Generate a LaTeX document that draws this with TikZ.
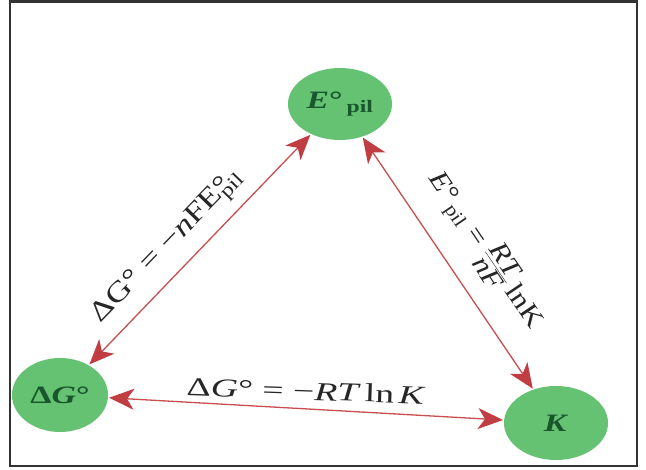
\documentclass[tikz,border=0pt]{standalone}
\usepackage{fontspec}
\setmainfont{Liberation Serif}
\newfontfamily\circfont[FakeStretch=1.35]{Liberation Serif}
\newfontfamily\botfont[FakeStretch=1.45]{Liberation Serif}
\newfontfamily\leftfont[FakeStretch=1.25]{Liberation Serif}
\newfontfamily\rightfont[FakeStretch=1.15]{Liberation Serif}
\usetikzlibrary{arrows.meta,shapes.geometric}
\definecolor{stategreen}{RGB}{100,194,114}
\definecolor{statetext}{RGB}{24,86,44}
\definecolor{linkred}{RGB}{200,78,80}
\definecolor{headred}{RGB}{192,62,66}
\tikzset{
  state/.style={ellipse, fill=stategreen, draw=none, inner sep=0pt, text=statetext,
    font=\circfont\bfseries\fontsize{25}{25}\selectfont},
  redhead/.tip={Stealth[length=25pt,width=21pt,inset=7pt,fill=headred,color=headred]},
  link/.style={draw=linkred, line width=1.3pt, {redhead}-{redhead},
    shorten <=1pt, shorten >=1pt},
  eqlabel/.style={inner sep=0pt, text=black!85}
}
\begin{document}
\begin{tikzpicture}[x=1pt,y=-1pt]
\useasboundingbox (0,0) rectangle (646,470);
\fill[white] (0,0) rectangle (646,470);
\node[state, minimum width=104pt, minimum height=72pt] (e) at (340,104) {\textit{E}°\,\textsubscript{pil}};
\node[state, minimum width=96pt, minimum height=74pt] (dg) at (60,395) {Δ\textit{G}°};
\node[state, minimum width=104pt, minimum height=74pt] (k) at (556,423) {\textit{K}};
\draw[link] (dg) -- (e);
\draw[link] (e) -- (k);
\draw[link] (dg) -- (k);
\node[eqlabel, rotate=46, font=\leftfont\fontsize{28}{28}\selectfont] (l1) at (168,247)
  {ΔG° = −\textit{n}FE\rlap{°}\textsubscript{pil}};
\node[eqlabel, rotate=-2, font=\botfont\fontsize{26}{26}\selectfont] (l2) at (306,391)
  {Δ\textit{G}° = −\textit{RT}\,ln\,\textit{K}};
\node[eqlabel, rotate=-56, font=\rightfont\fontsize{27}{27}\selectfont] (l3) at (486,250)
  {\textit{E}°\textsubscript{\,pil} = $\frac{\hbox{\textit{RT}}}{\hbox{\textit{nF}}}$\,lnK};
\draw[line width=2.5pt, black!80] (10,1.5) rectangle (637,466);
\end{tikzpicture}
\end{document}
